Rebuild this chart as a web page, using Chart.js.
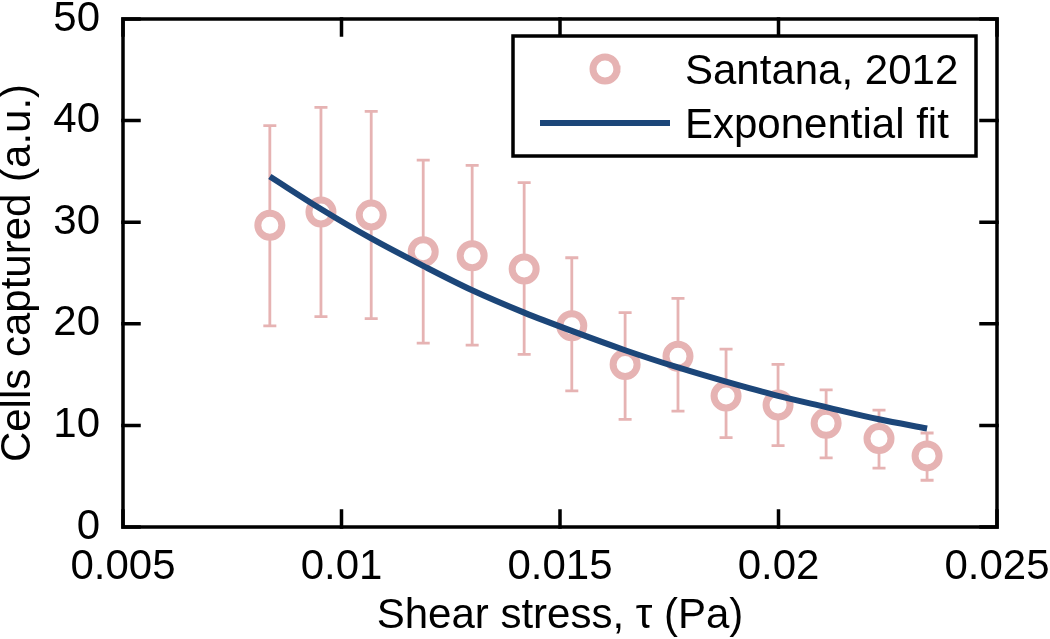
<!DOCTYPE html>
<html>
<head>
<meta charset="utf-8">
<script src="https://cdn.jsdelivr.net/npm/chart.js@4.4.1/dist/chart.umd.min.js"></script>
<style>
  html, body { margin: 0; padding: 0; background: #fff; }
  canvas { display: block; }
</style>
</head>
<body>
<canvas id="myChart" width="1050" height="639"></canvas>
<script>
// shear stress (Pa) of each measurement
const shearStress = [0.00836, 0.00953, 0.01068, 0.01187, 0.01299, 0.01418, 0.01527,
                     0.01649, 0.0177, 0.0188, 0.01999, 0.02109, 0.0223, 0.0234];
// cells captured, mean and error bar ends
const cellsCaptured = [29.7, 31.0, 30.7, 27.1, 26.7, 25.4, 19.8, 16.0, 16.8, 12.9, 12.0, 10.2, 8.7, 7.0];
const errTop = [39.5, 41.3, 40.9, 36.1, 35.6, 33.9, 26.5, 21.1, 22.5, 17.5, 16.0, 13.5, 11.5, 9.25];
const errBottom = [19.8, 20.7, 20.5, 18.1, 17.9, 17.0, 13.4, 10.6, 11.4, 8.8, 8.0, 6.8, 5.8, 4.6];
// exponential fit, read at the same shear stress values
const fitValues = [34.5, 31.3, 28.4, 25.7, 23.3, 21.1, 19.3, 17.4, 15.7, 14.3, 12.9, 11.8, 10.6, 9.7];

const xTicks = [0.005, 0.01, 0.015, 0.02, 0.025];
const yTicks = [0, 10, 20, 30, 40, 50];

const FONT = "'Liberation Sans', Arial, sans-serif";
const PINK = "#e6b3b3";
const BLUE = "#1c4679";

const errorBars = {
  id: "errorBars",
  beforeDatasetsDraw(chart) {
    const { ctx, scales: { x, y } } = chart;
    ctx.save();
    ctx.strokeStyle = PINK;
    ctx.lineWidth = 2.8;
    shearStress.forEach((s, i) => {
      const px = x.getPixelForValue(s);
      const top = y.getPixelForValue(errTop[i]);
      const bot = y.getPixelForValue(errBottom[i]);
      ctx.beginPath();
      ctx.moveTo(px, top); ctx.lineTo(px, bot);
      ctx.moveTo(px - 6.5, top); ctx.lineTo(px + 6.5, top);
      ctx.moveTo(px - 6.5, bot); ctx.lineTo(px + 6.5, bot);
      ctx.stroke();
    });
    ctx.restore();
  },
};

// box round the plot with ticks pointing inward on all four sides
const frame = {
  id: "frame",
  afterDraw(chart) {
    const { ctx, chartArea: a, scales: { x, y } } = chart;
    ctx.save();
    ctx.strokeStyle = "#000";
    ctx.lineWidth = 3.5;
    ctx.lineCap = "square";
    ctx.beginPath();
    x.ticks.forEach(t => {
      const px = x.getPixelForValue(t.value);
      ctx.moveTo(px, a.bottom); ctx.lineTo(px, a.bottom - 16);
      ctx.moveTo(px, a.top); ctx.lineTo(px, a.top + 16);
    });
    y.ticks.forEach(t => {
      const py = y.getPixelForValue(t.value);
      ctx.moveTo(a.left, py); ctx.lineTo(a.left + 16, py);
      ctx.moveTo(a.right, py); ctx.lineTo(a.right - 16, py);
    });
    ctx.stroke();
    ctx.strokeRect(a.left, a.top, a.right - a.left, a.bottom - a.top);

    // legend
    const lx = 513, ly = 36, lw = 463, lh = 120;
    ctx.fillStyle = "#fff";
    ctx.fillRect(lx, ly, lw, lh);
    ctx.strokeRect(lx, ly, lw, lh);

    ctx.lineWidth = 7;
    ctx.strokeStyle = PINK;
    ctx.beginPath();
    ctx.arc(605, 69, 12, 0, Math.PI * 2);
    ctx.stroke();

    ctx.lineWidth = 6;
    ctx.lineCap = "butt";
    ctx.strokeStyle = BLUE;
    ctx.beginPath();
    ctx.moveTo(540, 123); ctx.lineTo(670, 123);
    ctx.stroke();

    ctx.fillStyle = "#000";
    ctx.font = "42px " + FONT;
    ctx.textBaseline = "alphabetic";
    ctx.textAlign = "left";
    ctx.fillText(chart.data.datasets[0].label, 685, 84);
    ctx.fillText(chart.data.datasets[1].label, 685, 138);
    ctx.restore();
  },
};

const ctx = document.getElementById("myChart");
const myChart = new Chart(ctx, {
  type: "scatter",
  data: {
    datasets: [
      {
        label: "Santana, 2012",
        data: shearStress.map((s, i) => ({ x: s, y: cellsCaptured[i] })),
        pointStyle: "circle",
        pointRadius: 12,
        pointBorderWidth: 7,
        pointBorderColor: PINK,
        pointBackgroundColor: "#fff",
        order: 1,
      },
      {
        label: "Exponential fit",
        data: shearStress.map((s, i) => ({ x: s, y: fitValues[i] })),
        showLine: true,
        borderColor: BLUE,
        borderWidth: 6,
        pointRadius: 0,
        cubicInterpolationMode: "monotone",
        order: 0,
      },
    ],
  },
  options: {
    responsive: false,
    animation: false,
    devicePixelRatio: 1,
    layout: { padding: { top: 15, right: 53, left: 0, bottom: 0 } },
    plugins: { legend: { display: false }, tooltip: { enabled: false } },
    scales: {
      x: {
        type: "linear",
        min: 0.005,
        max: 0.025,
        afterBuildTicks: s => { s.ticks = xTicks.map(v => ({ value: v })); },
        afterFit: s => {
          s.height = 112;
          s.paddingLeft = 0; s.paddingRight = 0;
        },
        grid: { display: false },
        border: { display: false },
        ticks: {
          color: "#000",
          padding: 7,
          font: { family: FONT, size: 42 },
          callback: v => String(v),
        },
        title: {
          display: true,
          text: "Shear stress, \u03c4 (Pa)",
          color: "#000",
          font: { family: FONT, size: 42, lineHeight: 1 },
          padding: { top: 0, bottom: 2 },
        },
      },
      y: {
        min: 0,
        max: 50,
        afterBuildTicks: s => { s.ticks = yTicks.map(v => ({ value: v })); },
        afterFit: s => {
          s.width = 123;
          s.paddingTop = 0; s.paddingBottom = 0;
        },
        grid: { display: false },
        border: { display: false },
        ticks: {
          color: "#000",
          padding: 15,
          font: { family: FONT, size: 42 },
        },
        title: {
          display: true,
          text: "Cells captured (a.u.)",
          color: "#000",
          font: { family: FONT, size: 42, lineHeight: 1 },
          padding: { top: -3, bottom: 0 },
        },
      },
    },
  },
  plugins: [errorBars, frame],
});
</script>
</body>
</html>
